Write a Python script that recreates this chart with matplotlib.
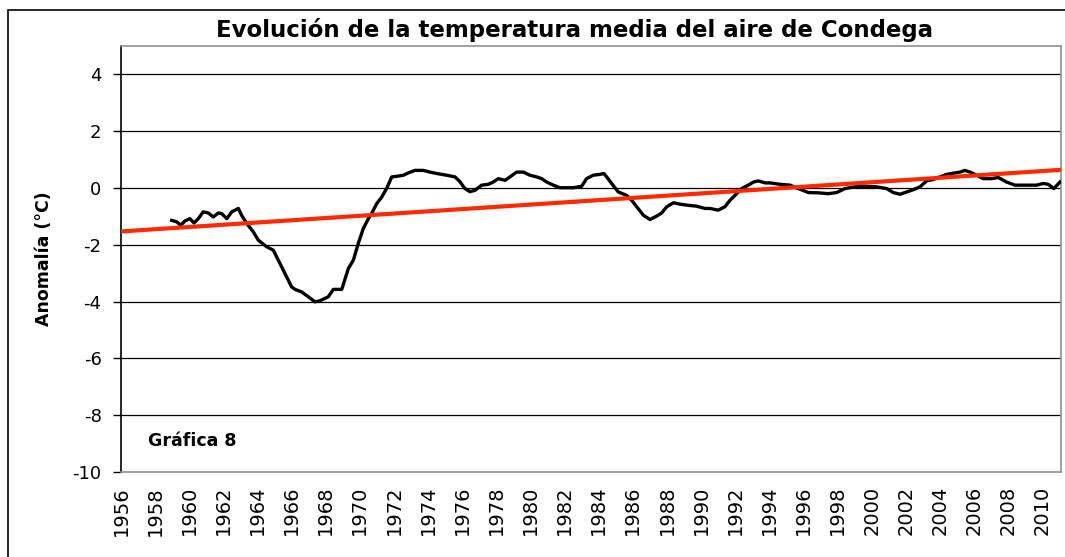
import matplotlib
matplotlib.use("Agg")
import matplotlib.pyplot as plt
import numpy as np
from matplotlib.patches import Rectangle

# ---- data ----
years = [1958.97, 1959.26, 1959.5, 1959.75, 1960.04, 1960.28, 1960.53, 1960.82, 1961.12,
         1961.41, 1961.7, 1961.9, 1962.2, 1962.49, 1962.88, 1963.07, 1963.37, 1963.76,
         1964.05, 1964.54, 1964.93, 1965.22, 1965.61, 1966.0, 1966.2, 1966.59, 1966.98,
         1967.37, 1967.67, 1968.15, 1968.45, 1968.94, 1969.33, 1969.62, 1969.91, 1970.2,
         1970.5, 1970.69, 1970.99, 1971.28, 1971.57, 1971.87, 1972.16, 1972.55, 1972.84,
         1973.23, 1973.72, 1974.11, 1974.6, 1975.09, 1975.58, 1975.87, 1976.16, 1976.46,
         1976.75, 1977.14, 1977.53, 1977.82, 1978.12, 1978.51, 1978.8, 1979.19, 1979.58,
         1979.97, 1980.37, 1980.66, 1980.95, 1981.34, 1981.73, 1982.51, 1983.0, 1983.29,
         1983.68, 1984.08, 1984.3, 1984.47, 1984.76, 1985.15, 1985.64, 1985.93, 1986.23,
         1986.62, 1987.01, 1987.4, 1987.69, 1987.99, 1988.38, 1988.77, 1989.25, 1989.74,
         1990.23, 1990.52, 1991.01, 1991.4, 1991.7, 1992.09, 1992.38, 1992.77, 1993.07,
         1993.36, 1993.75, 1994.04, 1994.63, 1995.22, 1995.7, 1996.29, 1996.87, 1997.46,
         1997.95, 1998.44, 1999.02, 1999.61, 2000.29, 2000.88, 2001.27, 2001.66, 2002.05,
         2002.44, 2002.83, 2003.22, 2003.61, 2004.0, 2004.4, 2004.89, 2005.18, 2005.47,
         2005.77, 2006.16, 2006.54, 2007.04, 2007.42, 2007.91, 2008.4, 2009.09, 2009.67,
         2010.06, 2010.35, 2010.68, 2011.04]
anomalies = [-1.14, -1.19, -1.31, -1.16, -1.08, -1.23, -1.08, -0.84, -0.88,
             -1.02, -0.88, -0.9, -1.08, -0.84, -0.72, -0.96, -1.25, -1.55,
             -1.84, -2.07, -2.19, -2.54, -3.01, -3.48, -3.57, -3.66, -3.83,
             -4.01, -3.97, -3.83, -3.57, -3.57, -2.83, -2.54, -1.95, -1.43,
             -1.08, -0.9, -0.55, -0.32, -0.02, 0.39, 0.41, 0.45, 0.53,
             0.62, 0.62, 0.56, 0.5, 0.45, 0.39, 0.22, -0.02, -0.13,
             -0.08, 0.1, 0.13, 0.21, 0.33, 0.27, 0.39, 0.56, 0.56,
             0.45, 0.39, 0.33, 0.21, 0.1, 0.01, 0.01, 0.06, 0.33,
             0.45, 0.48, 0.51, 0.39, 0.16, -0.14, -0.26, -0.43, -0.66,
             -0.96, -1.11, -0.99, -0.88, -0.66, -0.52, -0.57, -0.61, -0.64,
             -0.72, -0.72, -0.78, -0.66, -0.43, -0.2, -0.02, 0.1, 0.21,
             0.25, 0.18, 0.18, 0.13, 0.1, -0.02, -0.16, -0.17, -0.2,
             -0.16, -0.02, 0.04, 0.06, 0.04, -0.02, -0.16, -0.22, -0.14,
             -0.06, 0.04, 0.25, 0.3, 0.39, 0.48, 0.53, 0.56, 0.62,
             0.56, 0.45, 0.33, 0.33, 0.37, 0.21, 0.1, 0.1, 0.1,
             0.16, 0.13, -0.02, 0.21]
trend_years = [1956.0, 2011.1]
trend_values = [-1.53, 0.64]
x_ticks = list(range(1956, 2011, 2))
y_ticks = list(range(-10, 5, 2))

plt.rcParams['font.family'] = ['DejaVu Sans']
plt.rcParams['axes.unicode_minus'] = False

W, H = 1065, 557
fig = plt.figure(figsize=(W/100, H/100), dpi=100)
ax = fig.add_axes([121/W, 1-472/H, (1061-121)/W, (472-46)/H])

for v in y_ticks[1:]:
    ax.axhline(v, color='black', lw=0.9, zorder=1)

ax.plot(years, anomalies, color='black', lw=2.4, zorder=3, solid_joinstyle='round')
ax.plot(trend_years, trend_values, color='#ff2a00', lw=3.0, zorder=4)

ax.set_xlim(1956, 2011.1)
ax.set_ylim(-10, 5)
ax.set_xticks(x_ticks)
ax.set_xticklabels([str(t) for t in x_ticks], rotation=90, fontsize=14)
ax.set_yticks(y_ticks)
ax.set_yticklabels([str(t) for t in y_ticks], fontsize=13)
ax.tick_params(axis='x', length=0, pad=10)
ax.tick_params(axis='y', length=6, width=1, pad=8, direction='out')

ax.spines['left'].set_color('black')
ax.spines['left'].set_linewidth(1.2)
for s in ['top', 'right', 'bottom']:
    ax.spines[s].set_color('#909090')
    ax.spines[s].set_linewidth(1.2)

ax.set_ylabel('Anomalía (°C)', fontsize=12.5, fontweight='bold', labelpad=14)
fig.text(148/W, 1-441/H, 'Gráfica 8', fontsize=12.5, fontweight='bold',
         va='center', ha='left')
fig.text(575/W, 1-30/H, 'Evolución de la temperatura media del aire de Condega',
         fontsize=16.5, fontweight='bold', ha='center', va='center')

fig.patches.append(Rectangle((8/W, -0.1), 1.2, 1-10/H+0.1, transform=fig.transFigure,
                             fill=False, edgecolor='black', lw=1.2, zorder=10))

fig.savefig('out.png', dpi=100)
